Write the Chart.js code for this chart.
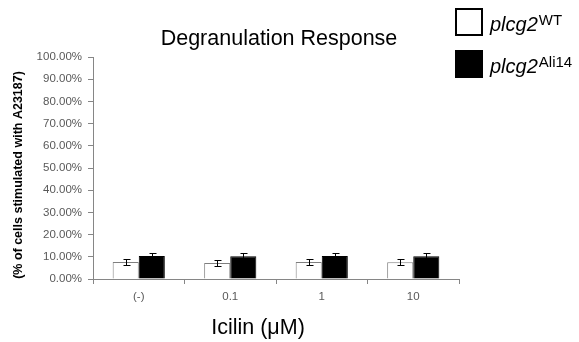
<!DOCTYPE html>
<html><head><meta charset="utf-8">
<script src="https://cdn.jsdelivr.net/npm/chart.js@4/dist/chart.umd.min.js"></script>
<style>html,body{margin:0;padding:0;background:#fff;}#wrap{width:579px;height:342px;position:relative;}</style>
</head><body><div id="wrap"><canvas id="c" width="579" height="342"></canvas></div>
<script>
const categories = ['(-)', '0.1', '1', '10'];
const wtValues = [7.7, 7.2, 7.7, 7.6];
const wtErrors = [1.3, 1.3, 1.3, 1.3];
const aliValues = [10.4, 10.2, 10.4, 10.2];
const aliErrors = [1.5, 1.4, 1.5, 1.4];
const seriesNames = [['plcg2', 'WT'], ['plcg2', 'Ali14']];
const yTicks = [0, 10, 20, 30, 40, 50, 60, 70, 80, 90, 100];
const chartTitle = 'Degranulation Response';
const xTitle = 'Icilin (\u03BCM)';
const yTitle = '(% of cells stimulated with A23187)';

const FONT = '"Liberation Sans", Arial, sans-serif';
const errs = [wtErrors, aliErrors];
const errorBarPlugin = {
  id: 'errbars',
  afterDatasetsDraw(chart) {
    const ctx = chart.ctx, y = chart.scales.y;
    ctx.save();
    ctx.strokeStyle = '#000'; ctx.lineWidth = 1;
    chart.data.datasets.forEach((ds, di) => {
      const meta = chart.getDatasetMeta(di);
      meta.data.forEach((bar, i) => {
        const v = ds.data[i], e = errs[di][i];
        const x = Math.round(bar.x) + 0.5;
        const yt = Math.round(y.getPixelForValue(v + e)) + 0.5;
        const yb = Math.round(y.getPixelForValue(v - e)) + 0.5;
        ctx.beginPath();
        ctx.moveTo(x, yt); ctx.lineTo(x, yb);
        ctx.moveTo(x - 3, yt); ctx.lineTo(x + 4, yt);
        ctx.moveTo(x - 3, yb); ctx.lineTo(x + 4, yb);
        ctx.stroke();
      });
    });
    ctx.restore();
  }
};
const decorPlugin = {
  id: 'decor',
  afterDraw(chart) {
    const ctx = chart.ctx;
    ctx.save();
    ctx.fillStyle = '#000';
    ctx.font = '21.5px ' + FONT;
    ctx.textAlign = 'center'; ctx.textBaseline = 'alphabetic';
    ctx.fillText(chartTitle, 279, 45);
    // legend
    const rows = [{y: 8, fill: '#fff'}, {y: 50, fill: '#000'}];
    rows.forEach((r, i) => {
      ctx.lineWidth = 2; ctx.strokeStyle = '#000'; ctx.fillStyle = r.fill;
      ctx.fillRect(456, r.y + 1, 26, 26);
      ctx.strokeRect(456, r.y + 1, 26, 26);
      ctx.fillStyle = '#000';
      ctx.textAlign = 'left'; ctx.textBaseline = 'alphabetic';
      ctx.font = 'italic 20px ' + FONT;
      ctx.fillText(seriesNames[i][0], 490, r.y + 23);
      const w = ctx.measureText(seriesNames[i][0]).width;
      ctx.font = '15px ' + FONT;
      ctx.fillText(seriesNames[i][1], 490 + w + 1, r.y + 17);
    });
    // x title
    ctx.font = '21.5px ' + FONT;
    ctx.textAlign = 'center'; ctx.textBaseline = 'alphabetic';
    ctx.fillText(xTitle, 258, 334);
    // y title
    ctx.translate(22, 175); ctx.rotate(-Math.PI / 2);
    ctx.font = 'bold 12.5px ' + FONT;
    ctx.textBaseline = 'alphabetic';
    ctx.fillText(yTitle, 0, 0);
    ctx.restore();
  }
};

new Chart(document.getElementById('c'), {
  type: 'bar',
  data: {
    labels: categories,
    datasets: [
      {label: seriesNames[0].join(''), data: wtValues, backgroundColor: '#fff', borderColor: '#7f7f7f', borderWidth: 1, borderSkipped: 'bottom'},
      {label: seriesNames[1].join(''), data: aliValues, backgroundColor: '#000', borderColor: '#000', borderWidth: 1}
    ]
  },
  options: {
    responsive: false, animation: false,
    layout: {padding: {top: 57, right: 120, left: 0, bottom: 0}},
    plugins: {legend: {display: false}, title: {display: false}, tooltip: {enabled: false}},
    datasets: {bar: {categoryPercentage: 0.57, barPercentage: 1.0}},
    scales: {
      x: {
        grid: {display: true, drawOnChartArea: false, offset: true, tickLength: 5, color: '#868686'},
        border: {color: '#868686'},
        ticks: {color: '#595959', font: {size: 11.5, family: FONT}, padding: 6},
        afterFit(s) { s.height = 63; }
      },
      y: {
        min: 0, max: 100,
        afterBuildTicks(s) { s.ticks = yTicks.map(v => ({value: v})); },
        grid: {display: true, drawOnChartArea: false, tickLength: 5, color: '#868686'},
        border: {color: '#868686'},
        ticks: {color: '#595959', font: {size: 11.5, family: FONT}, padding: 6,
          callback: v => v.toFixed(2) + '%'},
        afterFit(s) { s.width = 93; }
      }
    }
  },
  plugins: [errorBarPlugin, decorPlugin]
});
</script></body></html>
